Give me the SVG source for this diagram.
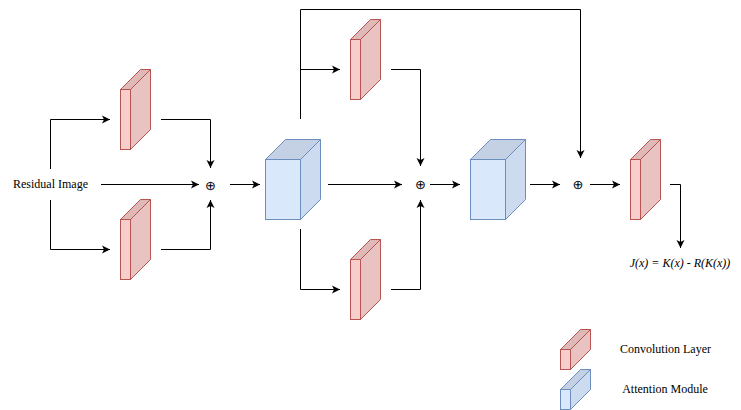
<svg xmlns="http://www.w3.org/2000/svg" xmlns:xlink="http://www.w3.org/1999/xlink" width="741" height="410" viewBox="0 0 741 410">
<style>
.conv-front{fill:#f8cecc;stroke:#b85450;stroke-width:1}
.conv-top{fill:#dfb9b8;stroke:#b85450;stroke-width:1;stroke-linejoin:round}
.conv-side{fill:#e8c3c2;stroke:#b85450;stroke-width:1;stroke-linejoin:round}
.attn-front{fill:#dae8fc;stroke:#6c8ebf;stroke-width:1}
.attn-top{fill:#c4d0e3;stroke:#6c8ebf;stroke-width:1;stroke-linejoin:round}
.attn-side{fill:#cddbf0;stroke:#6c8ebf;stroke-width:1;stroke-linejoin:round}
.edge{fill:none;stroke:#000;stroke-width:1}
.arr{marker-end:url(#arrow)}
.lbl{font-family:"Liberation Serif","Times New Roman",serif;font-size:12px;fill:#000}
.plus{font-family:"DejaVu Sans","Liberation Serif",sans-serif;font-size:13px;fill:#000;text-anchor:middle;dominant-baseline:central}
</style>
<defs>
<marker id="arrow" viewBox="-9 -5 10 10" refX="0" refY="0" markerWidth="10" markerHeight="10" orient="auto" markerUnits="userSpaceOnUse">
<path d="M-8,-4 L0,0 L-8,4 L-6,0 Z" fill="#000"/>
</marker>
<g id="convShape">
<polygon class="conv-top" points="0,20 20,0 30,0 10,20"/>
<polygon class="conv-side" points="10,20 30,0 30,60 10,80"/>
<rect class="conv-front" x="0" y="20" width="10" height="60"/>
</g>
<g id="attnShape">
<polygon class="attn-top" points="0,20 20,0 55,0 35,20"/>
<polygon class="attn-side" points="35,20 55,0 55,60 35,80"/>
<rect class="attn-front" x="0" y="20" width="35" height="60"/>
</g>
<g id="convLegend">
<polygon class="conv-top" points="0,20 20,0 30,0 10,20"/>
<polygon class="conv-side" points="10,20 30,0 30,20 10,40"/>
<rect class="conv-front" x="0" y="20" width="10" height="20"/>
</g>
<g id="attnLegend">
<polygon class="attn-top" points="0,20 20,0 30,0 10,20"/>
<polygon class="attn-side" points="10,20 30,0 30,20 10,40"/>
<rect class="attn-front" x="0" y="20" width="10" height="20"/>
</g>
</defs>
<rect width="741" height="410" fill="#fff"/>

<g id="connectors">
<path class="edge arr" d="M50.5,169 V119.5 H110"/>
<path class="edge arr" d="M50.5,200 V249.5 H110"/>
<path class="edge arr" d="M101,184.5 H199"/>
<path class="edge arr" d="M161,119.5 H210.5 V168"/>
<path class="edge arr" d="M161,249.5 H210.5 V200"/>
<path class="edge arr" d="M230,184.5 H260"/>
<path class="edge arr" d="M300.5,119 V9.5 H580.5 V158"/>
<path class="edge arr" d="M300.5,69.5 H340"/>
<path class="edge arr" d="M391,69.5 H420.5 V166"/>
<path class="edge arr" d="M328,184.5 H402"/>
<path class="edge arr" d="M300.5,229 V289.5 H340"/>
<path class="edge arr" d="M391,289.5 H420.5 V200"/>
<path class="edge arr" d="M430,184.5 H460"/>
<path class="edge arr" d="M530,184.5 H560"/>
<path class="edge arr" d="M590,184.5 H620"/>
<path class="edge arr" d="M670,184.5 H680.5 V248"/>
</g>

<g id="input"><text class="lbl" x="13" y="188">Residual Image</text></g>
<g id="conv1"><use xlink:href="#convShape" x="120.5" y="69.5"/></g>
<g id="conv2"><use xlink:href="#convShape" x="120.5" y="199.5"/></g>
<g id="sum1"><text class="plus" x="210.5" y="185">⊕</text></g>
<g id="attn1"><use xlink:href="#attnShape" x="265.5" y="139.5"/></g>
<g id="conv3"><use xlink:href="#convShape" x="350.5" y="19.5"/></g>
<g id="conv4"><use xlink:href="#convShape" x="350.5" y="239.5"/></g>
<g id="sum2"><text class="plus" x="420.5" y="184.5">⊕</text></g>
<g id="attn2"><use xlink:href="#attnShape" x="470.5" y="139.5"/></g>
<g id="sum3"><text class="plus" x="578" y="184.5">⊕</text></g>
<g id="conv5"><use xlink:href="#convShape" x="630.5" y="139.5"/></g>
<g id="output"><text class="lbl" x="680" y="267" text-anchor="middle" font-style="italic">J(x) = K(x) - R(K(x))</text></g>
<g id="legend-conv"><use xlink:href="#convLegend" x="560.5" y="329.5"/><text class="lbl" x="665.5" y="353" text-anchor="middle">Convolution Layer</text></g>
<g id="legend-attn"><use xlink:href="#attnLegend" x="560.5" y="369.5"/><text class="lbl" x="665" y="393" text-anchor="middle">Attention Module</text></g>
</svg>
